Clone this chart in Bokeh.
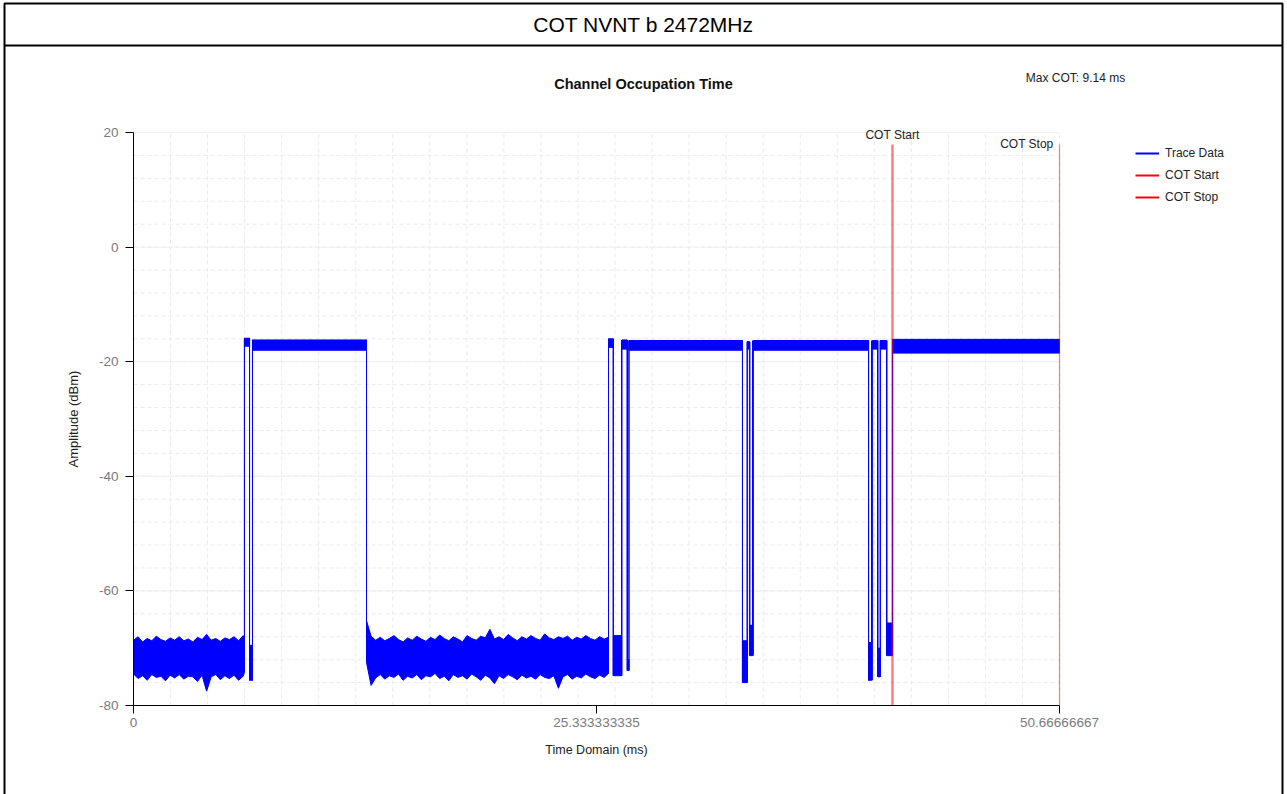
import numpy as np
from bokeh.plotting import figure
from bokeh.models import FixedTicker, Label, Legend, LegendItem, Range1d
from bokeh.embed import file_html
from bokeh.resources import INLINE

FONT = "Liberation Sans"

# ---------------- data ----------------
page_title = "COT NVNT b 2472MHz"
chart_title = "Channel Occupation Time"
x_label = "Time Domain (ms)"
y_label = "Amplitude (dBm)"

x_min, x_max = 0.0, 50.66666667
y_min, y_max = -80, 20
x_ticks = [0, 25.333333335, 50.66666667]
x_tick_labels = ["0", "25.333333335", "50.66666667"]
y_ticks = [20, 0, -20, -40, -60, -80]
y_tick_labels = ["20", "0", "-20", "-40", "-60", "-80"]

cot_start = 41.5267          # ms
max_cot = 9.14               # ms
cot_stop = 50.6667           # ms
cot_line_top = 17.9          # dBm, top end of the COT marker lines

# Trace Data, short states of the sweep: start / end (ms), band low / high (dBm)
seg_start = [6.07, 6.35, 6.51, 25.99, 26.26, 26.73, 27.03, 27.11, 33.32, 33.59,
             33.73, 33.92, 40.22, 40.44, 40.74, 40.87, 41.23, 41.53]
seg_end = [6.35, 6.51, 12.75, 26.24, 26.70, 27.00, 27.11, 33.32, 33.57, 33.70,
           33.87, 40.22, 40.38, 40.71, 40.85, 41.20, 41.53, 50.6667]
seg_lo = [-17.3, -75.6, -18.0, -17.5, -74.8, -17.8, -73.9, -18.0, -76.0, -17.8,
          -71.3, -18.0, -75.6, -17.8, -75.0, -17.8, -71.3, -18.5]
seg_hi = [-15.9, -69.5, -16.2, -16.0, -67.8, -16.2, -72.0, -16.3, -68.7, -16.5,
          -66.0, -16.3, -69.0, -16.3, -70.0, -16.3, -65.6, -16.1]

# Trace Data, noise floor before the first burst (envelope of the sweep)
n1_t = [0.0, 0.25, 0.5, 0.75, 1.0, 1.25, 1.5, 1.75, 2.0, 2.25, 2.5, 2.75, 3.0,
        3.25, 3.5, 3.75, 4.0, 4.25, 4.5, 4.75, 5.0, 5.25, 5.5, 5.75, 6.0, 6.07]
n1_hi = [-68.6, -68.0, -68.9, -68.3, -68.7, -67.9, -68.5, -68.8, -68.2, -68.6,
         -68.0, -68.7, -68.4, -68.9, -68.1, -68.5, -67.6, -68.6, -68.3, -68.8,
         -68.2, -68.5, -68.0, -68.7, -67.8, -68.4]
n1_lo = [-74.5, -75.3, -74.8, -75.6, -74.6, -75.1, -74.9, -75.7, -74.7, -75.2,
         -74.6, -75.4, -74.9, -75.0, -75.8, -74.7, -77.5, -75.0, -74.6, -75.5,
         -74.8, -75.3, -74.7, -75.6, -74.9, -74.2]

# Trace Data, noise floor between the first and second burst
n2_t = [12.75, 13.0, 13.25, 13.5, 13.75, 14.0, 14.25, 14.5, 14.75, 15.0,
        15.25, 15.5, 15.75, 16.0, 16.25, 16.5, 16.75, 17.0, 17.25, 17.5,
        17.75, 18.0, 18.25, 18.5, 18.75, 19.0, 19.25, 19.5, 19.75, 20.0,
        20.25, 20.5, 20.75, 21.0, 21.25, 21.5, 21.75, 22.0, 22.25, 22.5,
        22.75, 23.0, 23.25, 23.5, 23.75, 24.0, 24.25, 24.5, 24.75, 25.0,
        25.25, 25.5, 25.75, 25.99]
n2_hi = [-65.2, -67.9, -68.6, -68.1, -68.7, -68.3, -67.8, -68.5, -68.9, -68.2,
         -68.6, -67.9, -68.4, -68.8, -68.1, -68.5, -67.7, -68.3, -68.7, -68.0,
         -68.4, -68.9, -67.8, -68.3, -68.6, -67.9, -68.2, -66.7, -68.4, -68.0,
         -68.5, -67.6, -68.2, -68.7, -68.0, -68.4, -67.8, -68.3, -68.6, -67.5,
         -68.2, -68.5, -68.0, -68.3, -67.9, -68.6, -68.1, -68.4, -67.8, -68.3,
         -68.6, -68.0, -68.4, -68.1]
n2_lo = [-72.5, -76.5, -75.2, -74.6, -75.4, -74.8, -75.1, -74.5, -75.6, -74.9,
         -75.2, -74.6, -75.5, -74.8, -75.0, -74.4, -75.3, -74.9, -75.7, -74.6,
         -75.1, -74.8, -75.4, -74.5, -75.0, -75.6, -74.7, -75.2, -76.2, -74.8,
         -75.3, -74.6, -75.0, -75.5, -74.7, -75.2, -74.9, -75.4, -74.6, -75.1,
         -75.3, -74.8, -77.0, -75.0, -74.6, -75.4, -74.9, -75.2, -74.5, -75.0,
         -75.3, -74.7, -75.1, -74.4]

# ---------------- layout (canvas pixels) ----------------
W, H = 1287, 794
PX_L, PX_R = 133, 1059     # canvas x of x_min / x_max
PY_T, PY_B = 132, 705      # canvas y (from top) of y_max / y_min
sx = (PX_R - PX_L) / (x_max - x_min)
sy = (PY_B - PY_T) / (y_max - y_min)


def dx(cx):
    return x_min + (cx - PX_L) / sx


def dy(cy):
    return y_max - (cy - PY_T) / sy


p = figure(width=W, height=H, x_range=Range1d(dx(0), dx(W)),
           y_range=Range1d(dy(H), dy(0)), output_backend="svg",
           toolbar_location=None, min_border=0)
p.outline_line_color = None
p.background_fill_color = "white"
p.border_fill_color = "white"
p.grid.visible = False

# ---- outer boxes (title box + chart box) ----
p.quad(left=[dx(4)], right=[dx(1282)], top=[dy(3)], bottom=[dy(45)],
       fill_alpha=0, line_color="black", line_width=2)
p.segment(x0=[dx(4), dx(1282)], y0=[dy(45), dy(45)],
          x1=[dx(4), dx(1282)], y1=[dy(H + 5), dy(H + 5)],
          line_color="black", line_width=2)
p.add_layout(Label(x=dx(643), y=dy(24), text=page_title, text_align="center",
                   text_baseline="middle", text_font=FONT, text_font_size="21px",
                   text_color="black"))

# ---- grid lines (dashed, light) ----
grid_x = list(np.linspace(x_min, x_max, 26))
grid_y = list(np.arange(y_min, y_max + 1, 4))
p.segment(x0=grid_x, y0=[y_min] * len(grid_x), x1=grid_x, y1=[y_max] * len(grid_x),
          line_color="#ebebeb", line_dash="4 3", line_width=1)
p.segment(x0=[x_min] * len(grid_y), y0=grid_y, x1=[x_max] * len(grid_y), y1=grid_y,
          line_color="#ebebeb", line_dash="4 3", line_width=1)
p.segment(x0=[x_min] * len(y_ticks), y0=y_ticks, x1=[x_max] * len(y_ticks), y1=y_ticks,
          line_color="#f0f0f0", line_width=1)

# ---- axes ----
p.xaxis.fixed_location = y_min
p.yaxis.fixed_location = x_min
p.xaxis.bounds = (x_min, x_max)
p.yaxis.bounds = (y_min, y_max)
p.xaxis.ticker = FixedTicker(ticks=x_ticks)
p.xaxis.major_label_overrides = {t: l for t, l in zip(x_ticks, x_tick_labels)}
p.yaxis.ticker = FixedTicker(ticks=y_ticks)
p.yaxis.major_label_overrides = {t: l for t, l in zip(y_ticks, y_tick_labels)}
for ax in (p.xaxis[0], p.yaxis[0]):
    ax.axis_line_color = "black"
    ax.axis_line_width = 1
    ax.major_tick_line_color = "black"
    ax.major_tick_out = 8
    ax.major_tick_in = 0
    ax.minor_tick_line_color = None
    ax.major_label_text_font = FONT
    ax.major_label_text_font_size = "13.5px"
    ax.major_label_text_color = "#7a7a80"
    ax.axis_label_text_font = FONT
    ax.axis_label_text_font_style = "normal"
    ax.axis_label_text_color = "#222222"
p.xaxis.axis_label = x_label
p.xaxis.axis_label_text_font_size = "12.5px"
p.xaxis.major_label_standoff = 4
p.xaxis.axis_label_standoff = 13
p.yaxis.axis_label = y_label
p.yaxis.axis_label_text_font_size = "13px"
p.yaxis.major_label_standoff = 7
p.yaxis.axis_label_standoff = 15

TRACE = "#0000ff"

# ---- Trace Data ----
p.varea(x=n1_t, y1=n1_lo, y2=n1_hi, fill_color=TRACE)
p.line(x=n1_t, y=n1_hi, line_color=TRACE, line_width=1)
p.line(x=n1_t, y=n1_lo, line_color=TRACE, line_width=1)
p.varea(x=n2_t, y1=n2_lo, y2=n2_hi, fill_color=TRACE)
p.line(x=n2_t, y=n2_hi, line_color=TRACE, line_width=1)
p.line(x=n2_t, y=n2_lo, line_color=TRACE, line_width=1)

p.quad(left=seg_start, right=seg_end, bottom=seg_lo, top=seg_hi,
       fill_color=TRACE, line_color=TRACE, line_width=1)

bands = [(s, e, lo, hi, lo, hi) for s, e, lo, hi in zip(seg_start, seg_end, seg_lo, seg_hi)]
bands.append((n1_t[0], n1_t[-1], n1_lo[0], n1_hi[0], n1_lo[-1], n1_hi[-1]))
bands.append((n2_t[0], n2_t[-1], n2_lo[0], n2_hi[0], n2_lo[-1], n2_hi[-1]))
bands.sort(key=lambda b: b[0])
tx, ty0, ty1 = [], [], []
for a, b in zip(bands[:-1], bands[1:]):
    for xx in (a[1], b[0]):
        tx.append(xx)
        ty0.append(min(a[4], b[2]))
        ty1.append(max(a[5], b[3]))
p.segment(x0=tx, y0=ty0, x1=tx, y1=ty1, line_color=TRACE, line_width=1)

# ---- COT markers ----
p.segment(x0=[cot_start], y0=[y_min], x1=[cot_start], y1=[cot_line_top],
          line_color="red", line_alpha=0.5, line_width=2.5)
p.segment(x0=[cot_stop], y0=[y_min], x1=[cot_stop], y1=[cot_line_top],
          line_color="red", line_alpha=0.5, line_width=1.2)
p.add_layout(Label(x=cot_start, y=dy(134), text="COT Start", text_align="center",
                   text_baseline="middle", text_font=FONT,
                   text_font_size="12px", text_color="#222222"))
p.add_layout(Label(x=cot_stop, y=dy(143), x_offset=-6, text="COT Stop",
                   text_align="right", text_baseline="middle", text_font=FONT,
                   text_font_size="12px", text_color="#222222"))

# ---- titles ----
p.add_layout(Label(x=dx(643), y=dy(83), text=chart_title, text_align="center",
                   text_baseline="middle", text_font=FONT,
                   text_font_size="14.5px", text_font_style="bold", text_color="#111111"))
p.add_layout(Label(x=dx(1075), y=dy(77), text=f"Max COT: {max_cot} ms",
                   text_align="center", text_baseline="middle", text_font=FONT,
                   text_font_size="12px", text_color="#222222"))

# ---- legend (proxy renderers kept outside the visible area) ----
far_x, far_y = [dx(-500)], [dy(-500)]
r_trace = p.line(x=far_x, y=far_y, line_color=TRACE, line_width=2)
r_start = p.line(x=far_x, y=far_y, line_color="red", line_width=2)
r_stop = p.line(x=far_x, y=far_y, line_color="red", line_width=2)
legend = Legend(items=[LegendItem(label="Trace Data", renderers=[r_trace]),
                       LegendItem(label="COT Start", renderers=[r_start]),
                       LegendItem(label="COT Stop", renderers=[r_stop])],
                location=(1135, H - 207))
legend.border_line_color = None
legend.background_fill_alpha = 0
legend.label_text_font = FONT
legend.label_text_font_size = "12px"
legend.label_text_color = "#222222"
legend.glyph_width = 24
legend.glyph_height = 20
legend.label_height = 20
legend.spacing = 2
legend.padding = 0
legend.margin = 0
legend.label_standoff = 6
p.add_layout(legend)

open("out.html", "w").write(file_html(p, INLINE))
